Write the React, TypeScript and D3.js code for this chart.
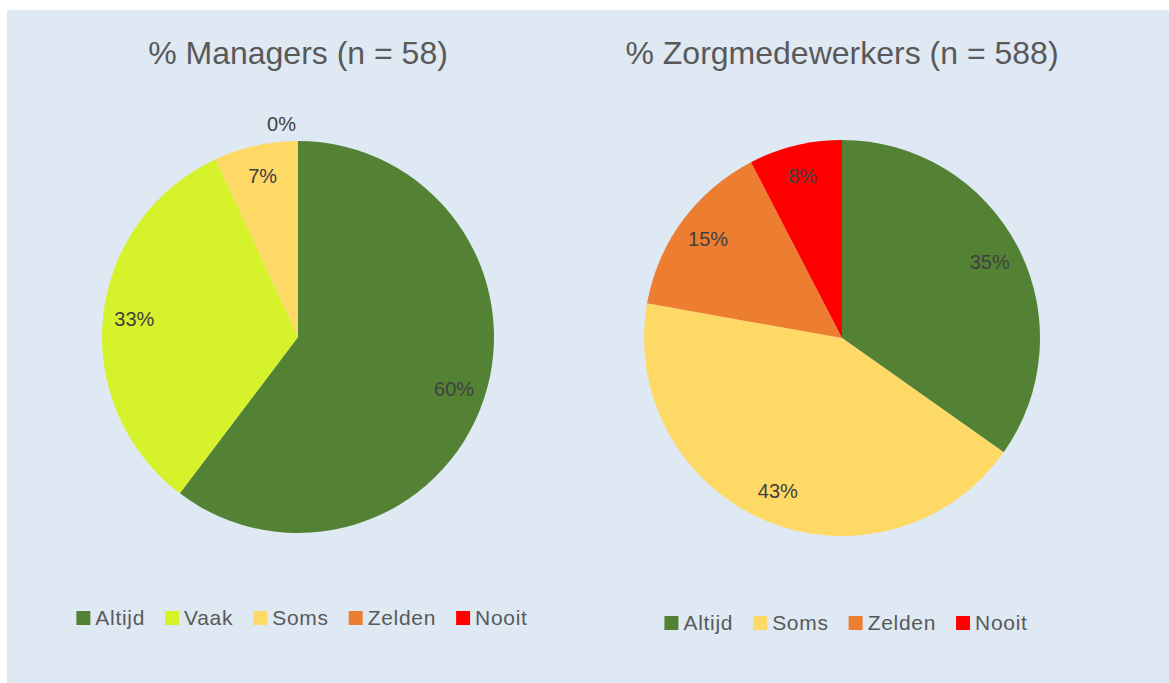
import React, { useEffect, useRef } from 'react';
import * as d3 from 'd3';

const W = 1169;
const H = 683;

const managerCats = ['Altijd', 'Vaak', 'Soms', 'Zelden', 'Nooit'];
const managerVals = [60.3, 32.8, 6.9, 0, 0];

const staffCats = ['Altijd', 'Soms', 'Zelden', 'Nooit'];
const staffVals = [34.8, 43.0, 14.6, 7.6];

const titles = ['% Managers (n = 58)', '% Zorgmedewerkers (n = 588)'];

const colors = {
  Altijd: '#548235',
  Vaak: '#d6f22b',
  Soms: '#ffd966',
  Zelden: '#ed7d31',
  Nooit: '#ff0000',
};

const charts = [
  { cats: managerCats, vals: managerVals, title: titles[0], cx: 298, cy: 337, r: 196, legendY: 618 },
  { cats: staffCats, vals: staffVals, title: titles[1], cx: 842, cy: 338, r: 198, legendY: 623 },
];

export default function App() {
  const ref = useRef(null);

  useEffect(() => {
    const svg = d3.select(ref.current);
    svg.selectAll('*').remove();

    svg
      .append('rect')
      .attr('x', 7)
      .attr('y', 10)
      .attr('width', W - 7)
      .attr('height', H - 10)
      .attr('fill', '#dfe9f3');

    charts.forEach(c => {
      const data = c.cats.map((k, i) => ({ cat: k, val: c.vals[i] }));
      const pie = d3
        .pie()
        .sort(null)
        .value(d => d.val);
      const arcs = pie(data);
      const arc = d3.arc().innerRadius(0).outerRadius(c.r);
      const labelArc = d3.arc().innerRadius(c.r * 0.84).outerRadius(c.r * 0.84);

      const g = svg.append('g').attr('transform', `translate(${c.cx}, ${c.cy})`);

      g.selectAll('path')
        .data(arcs.filter(a => a.data.val > 0))
        .enter()
        .append('path')
        .attr('d', arc)
        .attr('fill', d => colors[d.data.cat]);

      // labels on the slices
      g.selectAll('.label')
        .data(arcs.filter(a => a.data.val > 0))
        .enter()
        .append('text')
        .attr('class', 'label')
        .attr('x', d => labelArc.centroid(d)[0])
        .attr('y', d => labelArc.centroid(d)[1])
        .attr('dy', '0.35em')
        .attr('text-anchor', 'middle')
        .style('font-family', 'Liberation Sans, Arial, sans-serif')
        .style('font-size', '20px')
        .style('fill', '#404040')
        .text(d => `${Math.round(d.data.val)}%`);

      // zero slices sit at the top, one label outside the pie
      const zeros = arcs.filter(a => a.data.val === 0);
      if (zeros.length) {
        const outer = d3.arc().innerRadius(c.r * 1.085).outerRadius(c.r * 1.085);
        const p = outer.centroid(zeros[0]);
        g.append('text')
          .attr('x', p[0] - 2)
          .attr('y', p[1])
          .attr('dy', '0.35em')
          .attr('text-anchor', 'end')
          .style('font-family', 'Liberation Sans, Arial, sans-serif')
          .style('font-size', '20px')
          .style('fill', '#404040')
          .text('0%');
      }

      svg
        .append('text')
        .attr('x', c.cx)
        .attr('y', 64)
        .attr('text-anchor', 'middle')
        .style('font-family', 'Liberation Sans, Arial, sans-serif')
        .style('font-size', '32px')
        .style('fill', '#595959')
        .text(c.title);

      // legend
      const lg = svg.append('g');
      const items = lg
        .selectAll('g')
        .data(c.cats)
        .enter()
        .append('g');
      items
        .append('rect')
        .attr('width', 14)
        .attr('height', 14)
        .attr('y', c.legendY - 7)
        .attr('fill', d => colors[d]);
      items
        .append('text')
        .attr('x', 19)
        .attr('y', c.legendY + 7)
        .style('font-family', 'Liberation Sans, Arial, sans-serif')
        .style('font-size', '21px')
        .style('letter-spacing', '0.7px')
        .style('fill', '#595959')
        .text(d => d);
      let x = 0;
      const xs = [];
      items.each(function () {
        const t = d3.select(this).select('text').node();
        xs.push(x);
        x += 19 + t.getComputedTextLength() + 20;
      });
      const total = x - 20;
      const start = c.cx + 4 - total / 2;
      items.attr('transform', (d, i) => `translate(${start + xs[i]}, 0)`);
    });
  }, []);

  return (
    <svg
      ref={ref}
      width={W}
      height={H}
      style={{ position: 'absolute', left: 0, top: 0, background: '#fff' }}
    />
  );
}
